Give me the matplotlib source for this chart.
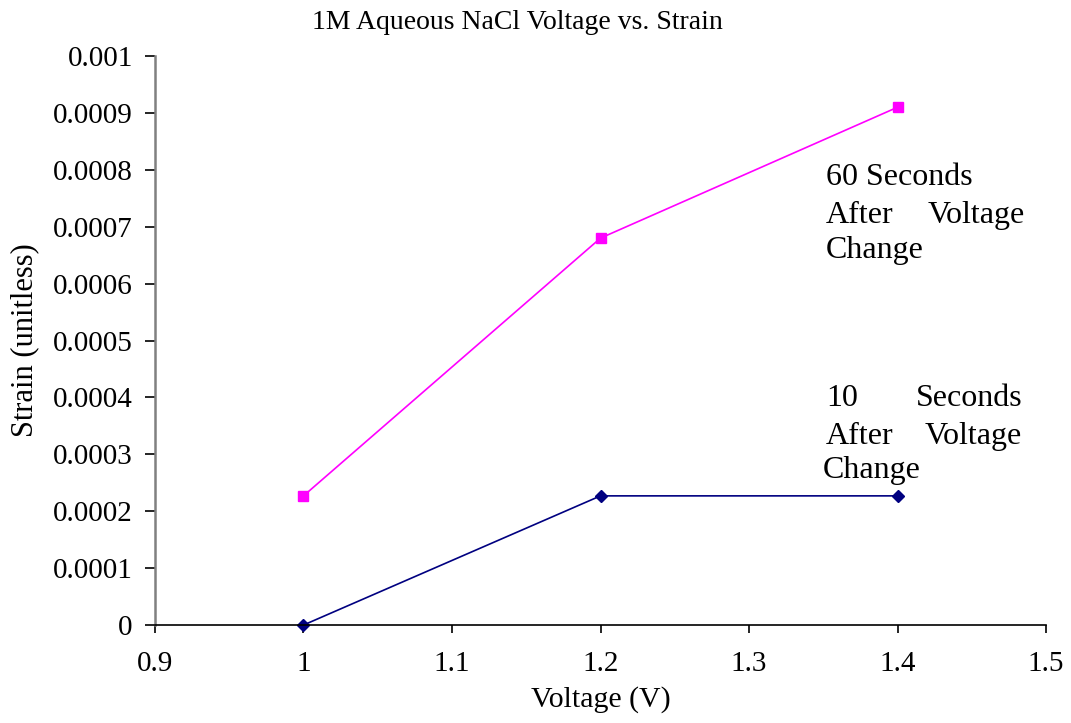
import matplotlib.pyplot as plt

voltage = [1.0, 1.2, 1.4]
strain_60s = [0.000227, 0.00068, 0.00091]
strain_10s = [0.0, 0.000227, 0.000227]

x_ticks = [0.9, 1.0, 1.1, 1.2, 1.3, 1.4, 1.5]
x_tick_labels = ["0.9", "1", "1.1", "1.2", "1.3", "1.4", "1.5"]
y_ticks = [0, 0.0001, 0.0002, 0.0003, 0.0004, 0.0005, 0.0006, 0.0007, 0.0008, 0.0009, 0.001]
y_tick_labels = ["0", "0.0001", "0.0002", "0.0003", "0.0004", "0.0005",
                 "0.0006", "0.0007", "0.0008", "0.0009", "0.001"]

plt.rcParams['font.family'] = ['Liberation Serif', 'DejaVu Serif']

fig = plt.figure(figsize=(10.71, 7.23), dpi=100)
ax = fig.add_axes([0.1447, 0.1355, 0.832, 0.787])

ax.plot(voltage, strain_60s, color='#ff00ff', marker='s', markersize=7, linewidth=1.2, clip_on=False)
ax.plot(voltage, strain_10s, color='#000080', marker='D', markersize=6.5, linewidth=1.2, clip_on=False)

ax.set_xlim(0.9, 1.5)
ax.set_ylim(0, 0.001)
ax.set_xticks(x_ticks)
ax.set_xticklabels(x_tick_labels)
ax.set_yticks(y_ticks)
ax.set_yticklabels(y_tick_labels)
ax.tick_params(labelsize=21, direction='out', width=1.2)
ax.tick_params(axis='y', colors='black', length=7, pad=9)
ax.tick_params(axis='x', colors='black', length=6, pad=13)

for s in ['top', 'right']:
    ax.spines[s].set_visible(False)
ax.spines['left'].set_color('#808080')
ax.spines['left'].set_linewidth(1.8)
ax.spines['bottom'].set_color('black')
ax.spines['bottom'].set_linewidth(1.2)

ax.set_xlabel("Voltage (V)", fontsize=21.5, labelpad=6)
ax.set_ylabel("Strain (unitless)", fontsize=22, labelpad=10)
fig.text(0.483, 0.969, "1M Aqueous NaCl Voltage vs. Strain", fontsize=20,
         ha='center', va='center')

# justified text labels, word by word
fs = 23
ax.text(1.3519, 0.000786, "60 Seconds", fontsize=fs, va='center', ha='left')
ax.text(1.3519, 0.000719, "After", fontsize=fs, va='center', ha='left')
ax.text(1.4859, 0.000719, "Voltage", fontsize=fs, va='center', ha='right')
ax.text(1.3519, 0.000659, "Change", fontsize=fs, va='center', ha='left')

ax.text(1.3519, 0.000399, "10", fontsize=fs, va='center', ha='left')
ax.text(1.4839, 0.000399, "Seconds", fontsize=fs, va='center', ha='right')
ax.text(1.3519, 0.000332, "After", fontsize=fs, va='center', ha='left')
ax.text(1.4839, 0.000332, "Voltage", fontsize=fs, va='center', ha='right')
ax.text(1.3499, 0.000272, "Change", fontsize=fs, va='center', ha='left')

fig.savefig("out.png", dpi=100)
